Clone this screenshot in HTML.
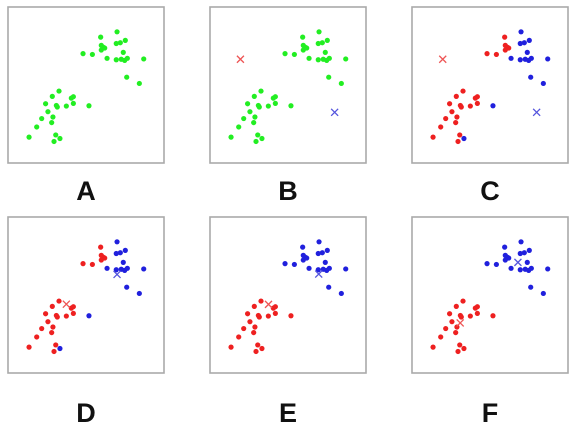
<!DOCTYPE html>
<html><head><meta charset="utf-8"><style>
body{margin:0;background:#fff;width:578px;height:441px;overflow:hidden;font-family:"Liberation Sans",sans-serif}
svg{position:absolute;left:0;top:0}
</style></head><body>
<svg id="c" width="578" height="441"></svg>
<script>
const xs=[59.4,69.9,59.8,60.9,62.0,59.8,69.4,72.0,75.2,73.9,48.1,54.1,63.5,69.4,72.6,74.8,76.5,87.0,76.1,84.2,
32.7,28.4,40.6,41.9,24.1,31.0,31.6,37.4,41.9,51.9,25.6,28.8,21.6,28.0,18.4,13.5,30.6,33.3,29.5];
const ys=[19.3,15.9,24.6,25.7,26.3,27.6,23.4,22.9,21.4,29.1,29.9,30.4,32.9,33.8,33.5,34.2,32.9,33.3,45.0,49.0,
53.9,57.3,58.4,57.5,62.0,63.1,64.1,63.5,61.8,63.3,67.1,70.5,71.5,74.1,76.9,83.4,82.0,84.3,86.2];
// assignment for C/D: 0 red, 1 blue
const assignCD=[0,1,0,0,0,0,1,1,1,1,0,0,1,1,1,1,1,1,1,1, 0,0,0,0,0,0,0,0,0,1,0,0,0,0,0,0,0,1,0];
const assignEF=[1,1,1,1,1,1,1,1,1,1,1,1,1,1,1,1,1,1,1,1, 0,0,0,0,0,0,0,0,0,0,0,0,0,0,0,0,0,0,0];
const panelLabels=["A","B","C","D","E","F"];
const centroids=[null,[[19.5,33.5],[79.9,67.5]],[[19.7,33.5],[79.9,67.5]],[[37.4,55.9],[69.9,36.8]],[[37.5,56],[69.7,36.6]],[[30.9,67.9],[67.9,29.1]]];
const panelX=[8,210,412], panelY=[7,217], S=156, labelOff=[37,49];
const colors=["#ee2020","#2020dd"], green="#22ee22";
const svg=document.getElementById('c'), NS="http://www.w3.org/2000/svg";
function mk(t,a,p){const e=document.createElementNS(NS,t);for(const k in a)e.setAttribute(k,a[k]);(p||svg).appendChild(e);return e;}
for(let i=0;i<6;i++){
  const row=Math.floor(i/3);
  const px=panelX[i%3], py=panelY[row];
  const g=mk('g',{});
  
  
  const r=mk('rect',{x:px,y:py,width:S,height:S,fill:'#fff',stroke:'#aaa','stroke-width':1.6},g);
  
  
  const sx=v=>px+v/100*S, sy=v=>py+v/100*S;
  for(let j=0;j<xs.length;j++){
    let col=green;
    if(i===2||i===3)col=colors[assignCD[j]];
    if(i>=4)col=colors[assignEF[j]];
    const c=mk('circle',{cx:sx(xs[j]),cy:sy(ys[j]),r:2.6,fill:col},g);
    
    
  }
  if(centroids[i]){
    centroids[i].forEach((cc,k)=>{
      const x=sx(cc[0]),y=sy(cc[1]),d=3.5;
      const m=mk('path',{d:`M${x-d},${y-d}L${x+d},${y+d}M${x-d},${y+d}L${x+d},${y-d}`,stroke:k?'#5555dd':'#ee5555','stroke-width':1.3,fill:'none'},g);
      
      
    });
  }
  const t=mk('text',{x:px+S/2,y:py+S+labelOff[row],'text-anchor':'middle','font-size':27,'font-weight':'bold',fill:'#111','font-family':'Liberation Sans, sans-serif'},g);
  t.textContent=panelLabels[i];
  
  
}
</script>
</body></html>
